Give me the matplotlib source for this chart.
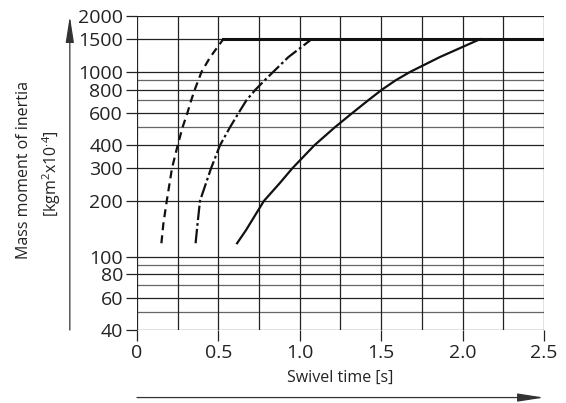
import numpy as np
import matplotlib.pyplot as plt

# curve readings (swivel time [s], mass moment of inertia [kgm2 x10^-4])
t_dash = [0.15, 0.162, 0.183, 0.215, 0.25, 0.28, 0.31, 0.333, 0.355, 0.377, 0.397, 0.45, 0.53]
j_dash = [118, 150, 200, 300, 400, 500, 600, 700, 800, 900, 1000, 1200, 1500]

t_dashdot = [0.36, 0.372, 0.387, 0.455, 0.51, 0.571, 0.625, 0.672, 0.728, 0.785, 0.838, 0.93, 1.073]
j_dashdot = [118, 150, 200, 300, 400, 500, 600, 700, 800, 900, 1000, 1200, 1500]

t_solid = [0.615, 0.67, 0.78, 0.878, 0.954, 1.09, 1.215, 1.325, 1.42, 1.505, 1.59, 1.68, 1.86, 2.107]
j_solid = [118, 139, 200, 250, 300, 400, 500, 600, 700, 800, 900, 1000, 1200, 1500]

t_plateau = [0.53, 2.5]
j_plateau = [1500, 1500]

y_major = [40, 60, 80, 100, 200, 300, 400, 600, 800, 1000, 1500, 2000]
y_minor = [50, 70, 90, 500, 700, 900]
x_major = [0, 0.5, 1.0, 1.5, 2.0, 2.5]
x_labels = ['0', '0.5', '1.0', '1.5', '2.0', '2.5']
x_minor = [0.25, 0.75, 1.25, 1.75, 2.25]

plt.rcParams['font.family'] = ['Open Sans', 'DejaVu Sans']
plt.rcParams['mathtext.fontset'] = 'custom'
plt.rcParams['mathtext.rm'] = 'Open Sans'

fig = plt.figure(figsize=(5.66, 4.03), dpi=100)
ax = fig.add_axes([0.242, 0.181, 0.719, 0.779])

ax.set_yscale('log')
ax.set_xlim(0, 2.5)
ax.set_ylim(40, 2000)

for y in y_major:
    ax.axhline(y, color='#222222', lw=0.9, zorder=1)
for y in y_minor:
    ax.axhline(y, color='#666666', lw=0.9, zorder=1)
for x in x_major + x_minor:
    ax.axvline(x, color='#222222', lw=0.9, zorder=1)

for s in ax.spines.values():
    s.set_visible(False)

ax.set_yticks(y_major)
ax.set_yticklabels([str(v) for v in y_major])
ax.yaxis.set_minor_locator(plt.NullLocator())
ax.set_xticks(x_major)
ax.set_xticklabels(x_labels)
ax.tick_params(axis='both', length=8, width=0.9, color='#222222',
               labelsize=14, pad=2, labelcolor='#222222')

lw = 1.6
ax.plot(t_dash, j_dash, color='#111111', lw=lw, linestyle=(0, (3.6, 2.3)), zorder=3)
ax.plot(t_dashdot, j_dashdot, color='#111111', lw=lw, linestyle=(0, (6.5, 1.4, 1.2, 1.4)), zorder=3)
ax.plot(t_solid, j_solid, color='#111111', lw=lw, zorder=3)
ax.plot(t_plateau, j_plateau, color='#111111', lw=2.2, zorder=3)

ax.set_xlabel('Swivel time [s]', fontsize=11.5, labelpad=6, color='#222222')

ax.text(-0.277, 0.51, 'Mass moment of inertia', transform=ax.transAxes,
        rotation=90, ha='center', va='center', fontsize=11.5, color='#222222')
ax.text(-0.21, 0.50, r'[kgm$^2$x10$^{\cdot4}$]', transform=ax.transAxes,
        rotation=90, ha='center', va='center', fontsize=11.5, color='#222222')

# direction arrows
arrow = dict(arrowstyle='-|>,head_length=1.6,head_width=0.25',
             color='#333333', lw=0.9, shrinkA=0, shrinkB=0)
ax.annotate('', xy=(-0.165, 1.0), xytext=(-0.165, 0.0), xycoords='axes fraction',
            arrowprops=arrow, annotation_clip=False)
ax.annotate('', xy=(1.0, -0.215), xytext=(0.0, -0.215), xycoords='axes fraction',
            arrowprops=arrow, annotation_clip=False)

fig.savefig('out.png', dpi=100)
